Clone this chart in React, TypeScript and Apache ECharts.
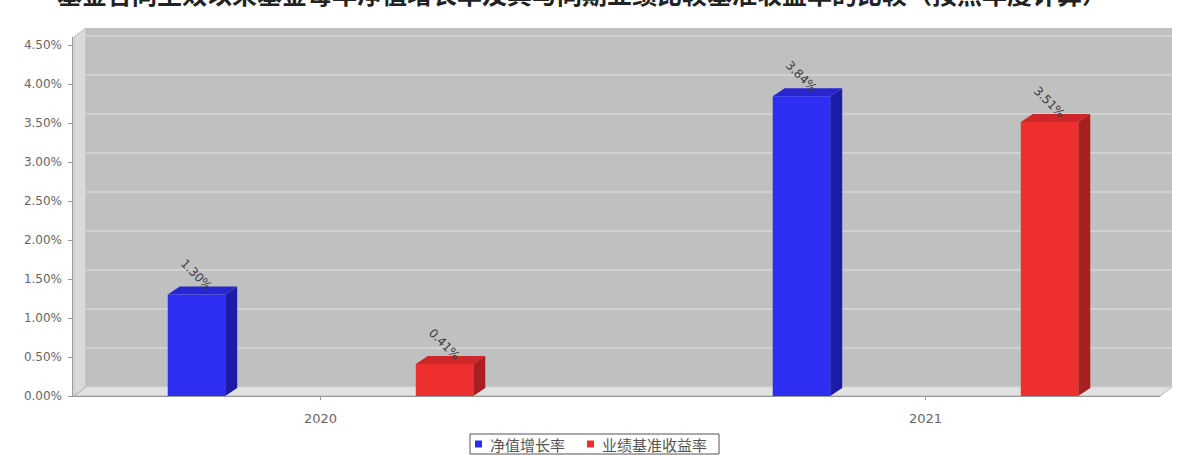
import React, { useEffect, useRef } from "react";
import * as echarts from "echarts";

// ---- data ----
const years = ["2020", "2021"];
const seriesNames = ["净值增长率", "业绩基准收益率"];
const navGrowth = [1.3, 3.84];
const benchmark = [0.41, 3.51];
const yTicks = [0, 0.5, 1, 1.5, 2, 2.5, 3, 3.5, 4, 4.5];
const titleText =
  "基金合同生效以来基金每年净值增长率及其与同期业绩比较基准收益率的比较（按照年度计算）";

// ---- layout / style ----
const W = 1177;
const H = 455;
const FRONT_LEFT = 74;
const FRONT_RIGHT = 1160;
const FRONT_TOP = 37;
const FRONT_BOTTOM = 396;
const DX = 12;
const DY = 9;
const Y_MAX = 4.6;
const BAND = 605; // px per category
const FIRST_CENTER = 320.5; // px of first category centre
const FONT = '"DejaVu Sans", sans-serif';
const CJK = '"Noto Sans CJK SC", sans-serif';

const palettes = [
  { front: "#2e2ef2", top: "#2626cc", side: "#1c1ca6" },
  { front: "#ee2f2f", top: "#cf2626", side: "#a81f1f" },
];

function makeRender(sign: number, pal: { front: string; top: string; side: string }) {
  return (params: any, api: any) => {
    const idx = api.value(0);
    const v = api.value(1);
    const band = api.size([1, 0])[0];
    const base = api.coord([idx, 0]);
    const topPt = api.coord([idx, v]);
    const cx = base[0] + sign * 0.205 * band;
    const w = 0.095 * band;
    const x0 = cx - w / 2;
    const x1 = cx + w / 2;
    const yt = topPt[1];
    const yb = base[1];
    const bdx = 12;
    const bdy = 8;
    return {
      type: "group",
      children: [
        {
          type: "polygon",
          shape: {
            points: [
              [x1, yt],
              [x1 + bdx, yt - bdy],
              [x1 + bdx, yb - bdy],
              [x1, yb],
            ],
          },
          style: { fill: pal.side },
        },
        {
          type: "polygon",
          shape: {
            points: [
              [x0, yt],
              [x0 + bdx, yt - bdy],
              [x1 + bdx, yt - bdy],
              [x1, yt],
            ],
          },
          style: { fill: pal.top },
        },
        {
          type: "rect",
          shape: { x: x0, y: yt, width: w, height: yb - yt },
          style: { fill: pal.front },
        },
        {
          type: "text",
          x: cx + 9,
          y: yt - 2,
          rotation: -Math.PI / 4,
          style: {
            text: v.toFixed(2) + "%",
            fill: "#3a3a3a",
            fontSize: 12,
            fontFamily: FONT,
            align: "right",
            verticalAlign: "bottom",
          },
        },
      ],
    };
  };
}

export default function App() {
  const ref = useRef<HTMLDivElement>(null);

  useEffect(() => {
    if (!ref.current) return;
    const chart = echarts.init(ref.current, null, { renderer: "svg" });
    const frontH = FRONT_BOTTOM - FRONT_TOP;
    const pxPerUnit = frontH / Y_MAX;
    const wallTick = yTicks[yTicks.length - 1];
    const wallGridH = wallTick * pxPerUnit;
    const gridLeft = 72;
    const gridWidth = FRONT_RIGHT - gridLeft;
    const xMin = -(FIRST_CENTER - gridLeft) / BAND;
    const xMax = xMin + gridWidth / BAND;
    const catIdx = years.map((_, i) => i);

    const option: any = {
      animation: false,
      graphic: [
        {
          type: "text",
          x: 582,
          y: 5,
          style: {
            text: titleText,
            fill: "#222",
            font: 'bold 25px "Noto Sans CJK SC"',
            align: "center",
            verticalAlign: "bottom",
          },
        },
        {
          type: "rect",
          z: -10,
          shape: {
            x: FRONT_LEFT + DX,
            y: FRONT_TOP - DY,
            width: FRONT_RIGHT - FRONT_LEFT,
            height: frontH,
          },
          style: { fill: "#c0c0c0" },
        },
        {
          type: "polygon",
          z: -10,
          shape: {
            points: [
              [FRONT_LEFT, FRONT_TOP],
              [FRONT_LEFT + DX, FRONT_TOP - DY],
              [FRONT_LEFT + DX, FRONT_BOTTOM - DY],
              [FRONT_LEFT, FRONT_BOTTOM],
            ],
          },
          style: { fill: "#dadada", stroke: "#b8b8b8", lineWidth: 1 },
        },
        {
          type: "polygon",
          z: -10,
          shape: {
            points: [
              [FRONT_LEFT, FRONT_BOTTOM],
              [FRONT_LEFT + DX, FRONT_BOTTOM - DY],
              [FRONT_RIGHT + DX, FRONT_BOTTOM - DY],
              [FRONT_RIGHT, FRONT_BOTTOM],
            ],
          },
          style: { fill: "#e2e2e2", stroke: "#b0b0b0", lineWidth: 1 },
        },
      ],
      legend: {
        data: seriesNames,
        left: 470,
        top: 434,
        orient: "horizontal",
        icon: "rect",
        itemWidth: 7,
        itemHeight: 7,
        itemGap: 22,
        padding: [2, 12, 2, 5],
        borderColor: "#555",
        borderWidth: 1,
        textStyle: {
          fontSize: 15,
          lineHeight: 16,
          color: "#555",
          fontFamily: CJK,
          padding: [0, 0, 0, 3],
        },
      },
      grid: [
        // front plane (axes + bars)
        { left: gridLeft, top: FRONT_TOP, width: gridWidth, height: frontH },
        // back wall gridlines
        {
          left: FRONT_LEFT + DX,
          top: FRONT_BOTTOM - DY - wallGridH,
          width: FRONT_RIGHT - FRONT_LEFT,
          height: wallGridH,
        },
      ],
      xAxis: [
        {
          gridIndex: 0,
          type: "value",
          min: xMin,
          max: xMax,
          axisLine: { show: true, onZero: false, lineStyle: { color: "#999", width: 1 } },
          axisTick: {
            show: true,
            length: 4,
            customValues: catIdx,
            lineStyle: { color: "#999" },
          },
          axisLabel: {
            customValues: catIdx,
            formatter: (v: number) => years[Math.round(v)] ?? "",
            color: "#666",
            fontSize: 13,
            fontFamily: FONT,
            margin: 16,
          },
          splitLine: { show: false },
        },
        {
          gridIndex: 1,
          type: "value",
          min: 0,
          max: 1,
          show: false,
        },
      ],
      yAxis: [
        {
          gridIndex: 0,
          type: "value",
          min: 0,
          max: Y_MAX,
          axisLine: { show: true, onZero: false, lineStyle: { color: "#999" } },
          axisTick: {
            show: true,
            length: 4,
            customValues: yTicks,
            lineStyle: { color: "#999" },
          },
          axisLabel: {
            customValues: yTicks,
            formatter: (v: number) => v.toFixed(2) + "%",
            color: "#666",
            fontSize: 12,
            fontFamily: FONT,
            margin: 10,
          },
          splitLine: { show: false },
        },
        {
          gridIndex: 1,
          type: "value",
          min: 0,
          max: wallTick,
          interval: 0.5,
          axisLine: { show: false },
          axisTick: { show: false },
          axisLabel: { show: false },
          splitLine: {
            show: true,
            lineStyle: { color: "rgba(255,255,255,0.28)", width: 2 },
          },
        },
      ],
      series: [
        {
          name: seriesNames[0],
          type: "custom",
          xAxisIndex: 0,
          yAxisIndex: 0,
          itemStyle: { color: palettes[0].front },
          renderItem: makeRender(-1, palettes[0]),
          encode: { x: 0, y: 1 },
          data: catIdx.map((i) => [i, navGrowth[i]]),
          z: 5,
        },
        {
          name: seriesNames[1],
          type: "custom",
          xAxisIndex: 0,
          yAxisIndex: 0,
          itemStyle: { color: palettes[1].front },
          renderItem: makeRender(1, palettes[1]),
          encode: { x: 0, y: 1 },
          data: catIdx.map((i) => [i, benchmark[i]]),
          z: 5,
        },
      ],
    };
    chart.setOption(option);
    return () => chart.dispose();
  }, []);

  return (
    <div
      ref={ref}
      style={{ position: "fixed", left: 0, top: 0, width: W, height: H, background: "#fff" }}
    />
  );
}
